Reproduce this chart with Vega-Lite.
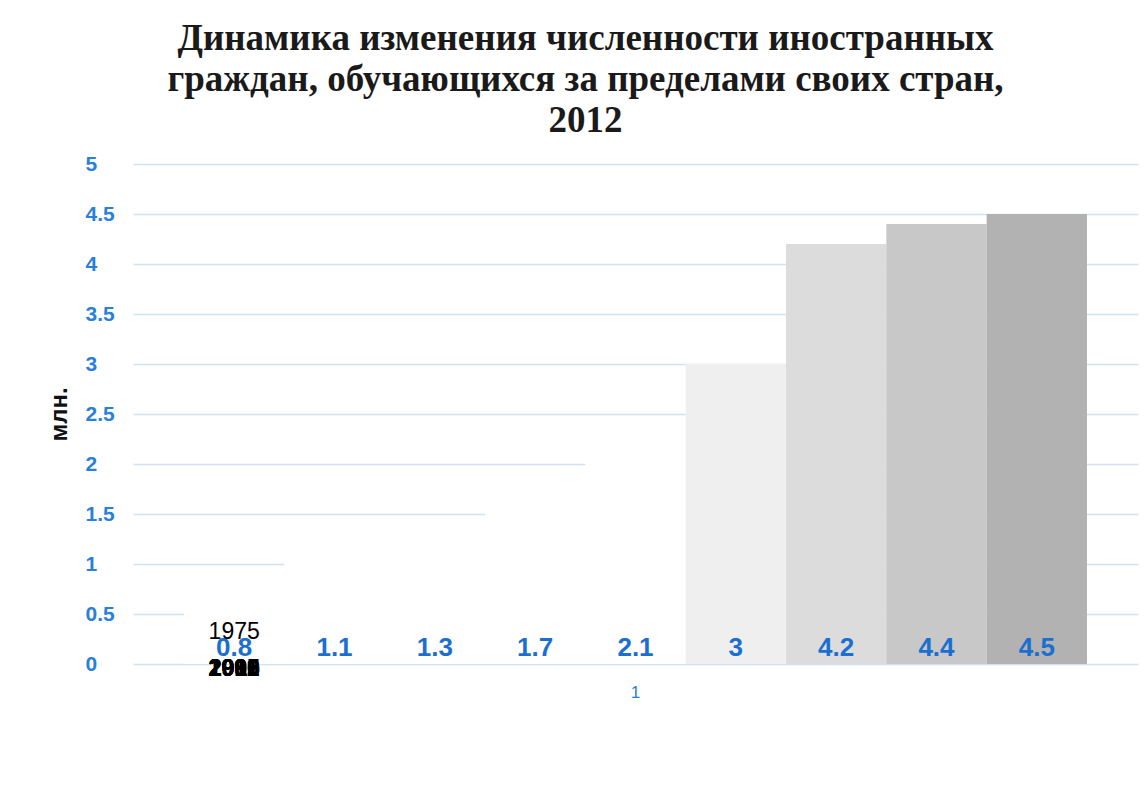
{
  "$schema": "https://vega.github.io/schema/vega-lite/v6.json",
  "width": 1005,
  "height": 500,
  "autosize": {"type": "none"},
  "padding": {"left": 133, "top": 164, "right": 7, "bottom": 122},
  "background": "#ffffff",
  "title": {
    "text": ["Динамика изменения численности иностранных", "граждан, обучающихся за пределами своих стран,", "2012"],
    "font": "Liberation Serif",
    "fontSize": 37,
    "fontWeight": "bold",
    "color": "#1a1a1a",
    "lineHeight": 41,
    "anchor": "middle",
    "dx": -50,
    "dy": 4,
    "offset": 17
  },
  "data": {
    "values": [
      {"group": "1", "year": "1975", "value": 0.8},
      {"group": "1", "year": "1980", "value": 1.1},
      {"group": "1", "year": "1990", "value": 1.3},
      {"group": "1", "year": "1995", "value": 1.7},
      {"group": "1", "year": "2000", "value": 2.1},
      {"group": "1", "year": "2005", "value": 3},
      {"group": "1", "year": "2010", "value": 4.2},
      {"group": "1", "year": "2011", "value": 4.4},
      {"group": "1", "year": "2012", "value": 4.5}
    ]
  },
  "config": {
    "view": {"stroke": null},
    "font": "Liberation Sans"
  },
  "encoding": {
    "x": {
      "field": "group",
      "type": "nominal",
      "scale": {"paddingInner": 0, "paddingOuter": 0.0565},
      "axis": {
        "title": null,
        "labelAngle": 0,
        "labelColor": "#2a7fd8",
        "labelFontSize": 17,
        "labelPadding": 20,
        "ticks": false,
        "domain": false,
        "grid": false
      }
    },
    "xOffset": {
      "field": "year",
      "type": "nominal",
      "scale": {"paddingInner": 0, "paddingOuter": 0}
    }
  },
  "layer": [
    {
      "mark": {"type": "bar", "strokeWidth": 0},
      "encoding": {
        "y": {
          "field": "value",
          "type": "quantitative",
          "scale": {"domain": [0, 5], "nice": false},
          "axis": {
            "title": "млн.",
            "titleFontSize": 24,
            "titleFontWeight": "bold",
            "titleColor": "#111111",
            "titlePadding": 14,
            "values": [0, 0.5, 1, 1.5, 2, 2.5, 3, 3.5, 4, 4.5, 5],
            "format": "~g",
            "labelAlign": "left",
            "labelPadding": 48,
            "labelColor": "#2a7fd8",
            "labelFontSize": 21,
            "labelFontWeight": "bold",
            "ticks": false,
            "domain": false,
            "grid": true,
            "gridColor": "#cfe3f5",
            "gridWidth": 1.5
          }
        },
        "color": {
          "field": "year",
          "type": "nominal",
          "legend": null,
          "scale": {
            "range": ["#ffffff", "#ffffff", "#ffffff", "#ffffff", "#ffffff", "#efefef", "#dcdcdc", "#c8c8c8", "#b2b2b2"]
          }
        }
      }
    },
    {
      "mark": {"type": "text", "fontSize": 26, "fontWeight": "bold", "color": "#1a6fd0", "baseline": "middle", "dy": -16},
      "encoding": {
        "y": {"datum": 0},
        "text": {"field": "value", "type": "quantitative"}
      }
    },
    {
      "transform": [{"filter": "datum.year != '1975'"}],
      "mark": {"type": "text", "fontSize": 23, "fontWeight": "bold", "color": "#000000", "baseline": "middle", "dy": 5},
      "encoding": {
        "xOffset": {"datum": "1975"},
        "y": {"datum": 0},
        "text": {"field": "year"}
      }
    },
    {
      "transform": [{"filter": "datum.year == '1975'"}],
      "mark": {"type": "text", "fontSize": 23, "color": "#000000", "baseline": "middle", "dy": -32},
      "encoding": {
        "xOffset": {"datum": "1975"},
        "y": {"datum": 0},
        "text": {"field": "year"}
      }
    }
  ]
}
